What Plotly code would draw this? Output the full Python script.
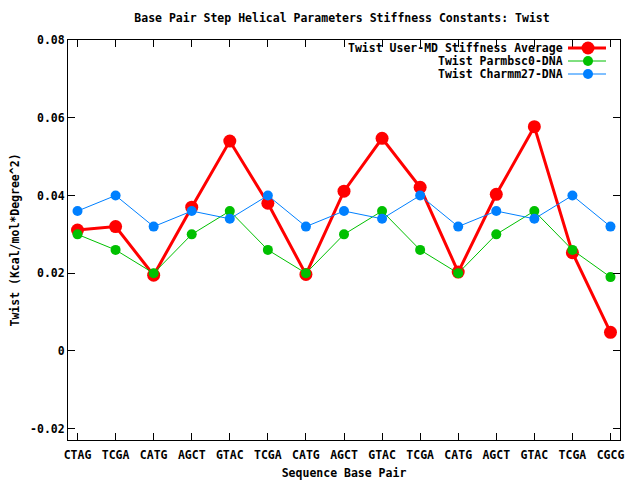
import plotly.graph_objects as go

categories = ["CTAG", "TCGA", "CATG", "AGCT", "GTAC", "TCGA", "CATG", "AGCT",
              "GTAC", "TCGA", "CATG", "AGCT", "GTAC", "TCGA", "CGCG"]
user_md = [0.0311, 0.0320, 0.0195, 0.0370, 0.0540, 0.0380, 0.0197, 0.0411,
           0.0547, 0.0421, 0.0203, 0.0403, 0.0577, 0.0253, 0.0048]
parmbsc0 = [0.030, 0.026, 0.020, 0.030, 0.036, 0.026, 0.020, 0.030,
            0.036, 0.026, 0.020, 0.030, 0.036, 0.026, 0.019]
charmm27 = [0.036, 0.040, 0.032, 0.036, 0.034, 0.040, 0.032, 0.036,
            0.034, 0.040, 0.032, 0.036, 0.034, 0.040, 0.032]
y_tickvals = [-0.02, 0, 0.02, 0.04, 0.06, 0.08]
y_ticktext = ["-0.02", "0", "0.02", "0.04", "0.06", "0.08"]

names = ["Twist User-MD Stiffness Average", "Twist Parmbsc0-DNA", "Twist Charmm27-DNA"]
colors = ["#ff0000", "#00c000", "#0080ff"]
FONT = "DejaVu Sans Mono"

L, R, T, B = 68, 620, 40, 440
PW, PH = R - L, B - T

def px(v):
    return (v - L) / PW

def py(v):
    return (B - v) / PH

x = list(range(1, len(categories) + 1))
fig = go.Figure()
series = [(user_md, 3, 13), (parmbsc0, 1, 10), (charmm27, 1, 10)]
for (vals, lw, ms), name, c in zip(series, names, colors):
    fig.add_trace(go.Scatter(x=x, y=vals, mode="lines+markers", name=name,
                             line=dict(color=c, width=lw),
                             marker=dict(color=c, size=ms, symbol="circle")))

# custom gnuplot-style legend (text right-aligned, sample on the right)
leg_y = [48, 61, 74]
for (vals, lw, ms), name, c, yy in zip(series, names, colors, leg_y):
    fig.add_annotation(x=px(565), y=py(yy), xref="paper", yref="paper", text="<b>" + name + "</b>",
                       showarrow=False, xanchor="right", yanchor="middle",
                       font=dict(family=FONT, size=11.5, color="black"))
    fig.add_shape(type="line", xref="paper", yref="paper",
                  x0=px(568), x1=px(606), y0=py(yy), y1=py(yy),
                  line=dict(color=c, width=lw))
    r = ms / 2
    fig.add_shape(type="circle", xref="paper", yref="paper",
                  x0=px(588 - r), x1=px(588 + r),
                  y0=py(yy + r), y1=py(yy - r),
                  fillcolor=c, line=dict(color=c, width=0))

fig.update_layout(
    width=640, height=480,
    margin=dict(l=L, r=640 - R, t=T, b=480 - B),
    paper_bgcolor="white", plot_bgcolor="white",
    showlegend=False,
    font=dict(family=FONT, size=11.5, color="black"),
    title=dict(text="<b>Base Pair Step Helical Parameters Stiffness Constants: Twist</b>",
               x=342 / 640, xanchor="center", y=1 - 18 / 480, yanchor="middle",
               font=dict(family=FONT, size=11.5, color="black")),
    xaxis=dict(range=[0.75, 15.25], tickvals=x, ticktext=["<b>%s</b>" % c for c in categories],
               automargin=False, ticklabelstandoff=4,
               showgrid=False, zeroline=False, showline=True, linecolor="black", linewidth=1,
               mirror="ticks", ticks="inside", ticklen=7, tickcolor="black",
               title=dict(text="<b>Sequence Base Pair</b>", standoff=12,
                          font=dict(family=FONT, size=11.5))),
    yaxis=dict(range=[-0.0229, 0.08], tickvals=y_tickvals,
               ticktext=["<b>%s</b>" % t for t in y_ticktext],
               automargin=False,
               showgrid=False, zeroline=False, showline=True, linecolor="black", linewidth=1,
               mirror="ticks", ticks="inside", ticklen=7, tickcolor="black",
               title=dict(text="<b>Twist (Kcal/mol*Degree^2)</b>", standoff=8,
                          font=dict(family=FONT, size=11.5))),
)

fig.write_html("out.html", post_script="document.body.style.margin='0';",
               config={"displayModeBar": False})
